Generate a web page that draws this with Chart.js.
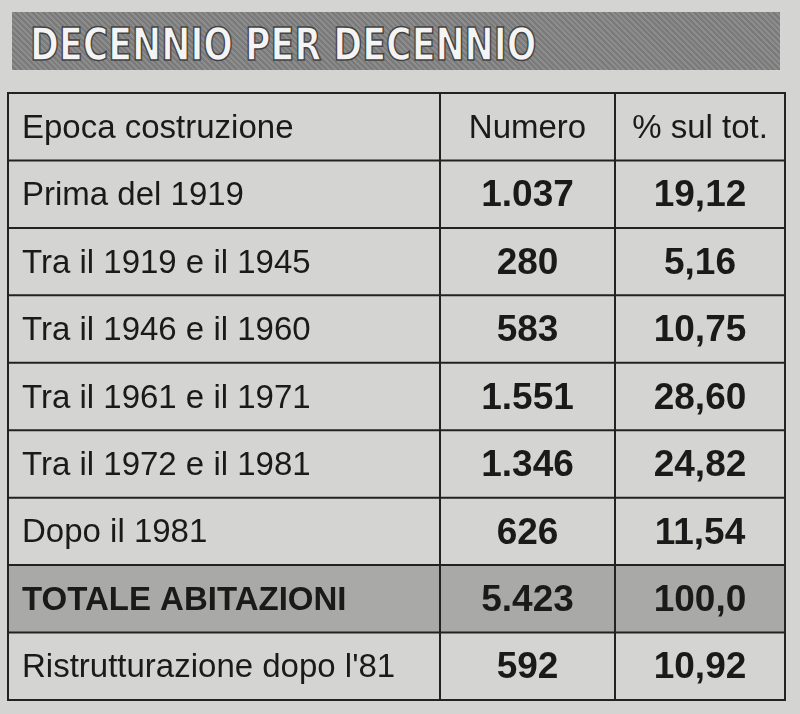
<!DOCTYPE html>
<html><head><meta charset="utf-8">
<script src="https://cdn.jsdelivr.net/npm/chart.js@4"></script>
<style>
body{margin:0;background:#d4d4d2;}
#wrap{position:relative;width:800px;height:714px;}
#band{position:absolute;left:12px;top:12px;width:768px;height:58px;background:repeating-linear-gradient(45deg,#8c8c8c 0 2px,#7a7a7a 2px 4px);}
#ttl{position:absolute;left:30px;top:19px;font:bold 44px "Liberation Sans Narrow","DejaVu Sans Condensed",sans-serif;color:#f4f4f4;-webkit-text-stroke:1.5px #444;transform:scaleX(0.88);transform-origin:left;}
</style></head><body>
<div id="wrap"><div id="band"></div><div id="ttl">DECENNIO PER DECENNIO</div>
<canvas id="c" width="800" height="714"></canvas></div>
<script>
const headers = ["Epoca costruzione","Numero","% sul tot."];
const categories = ["Prima del 1919","Tra il 1919 e il 1945","Tra il 1946 e il 1960","Tra il 1961 e il 1971","Tra il 1972 e il 1981","Dopo il 1981","TOTALE ABITAZIONI","Ristrutturazione dopo l'81"];
const numero = ["1.037","280","583","1.551","1.346","626","5.423","592"];
const percent = ["19,12","5,16","10,75","28,60","24,82","11,54","100,0","10,92"];
const rows = [headers[0]].concat(categories);
const colEdges = [0,432,607,777];
const shaded = rows.map(r => r==="TOTALE ABITAZIONI" ? [0,777] : null);

const tablePlugin = {id:'table', afterDatasetsDraw(chart){
  const ctx=chart.ctx, x=chart.scales.x, y=chart.scales.y;
  const n=rows.length, h=(y.bottom-y.top)/n;
  ctx.save();
  ctx.strokeStyle='#222'; ctx.lineWidth=2;
  ctx.strokeRect(x.getPixelForValue(0),y.top,x.getPixelForValue(777)-x.getPixelForValue(0),y.bottom-y.top);
  for(let i=1;i<n;i++){const yy=y.getPixelForValue(i)-h/2;ctx.beginPath();ctx.moveTo(x.left,yy);ctx.lineTo(x.right,yy);ctx.stroke();}
  colEdges.slice(1,3).forEach(v=>{const xx=x.getPixelForValue(v);ctx.beginPath();ctx.moveTo(xx,y.top);ctx.lineTo(xx,y.bottom);ctx.stroke();});
  ctx.fillStyle='#1a1a1a'; ctx.textBaseline='middle';
  const c1=(x.getPixelForValue(colEdges[1])+x.getPixelForValue(colEdges[2]))/2;
  const c2=(x.getPixelForValue(colEdges[2])+x.getPixelForValue(colEdges[3]))/2;
  rows.forEach((r,i)=>{
    const yy=y.getPixelForValue(i)+2;
    const bold = r==="TOTALE ABITAZIONI";
    ctx.font=(bold?'bold ':'')+'33px "Liberation Sans",Arial,sans-serif';
    ctx.textAlign='left'; ctx.fillText(r,x.getPixelForValue(0)+14,yy);
    ctx.textAlign='center';
    if(i===0){ctx.font='33px "Liberation Sans",Arial,sans-serif';ctx.fillText(headers[1],c1,yy);ctx.fillText(headers[2],c2,yy);}
    else{ctx.font='bold 37px "Liberation Sans",Arial,sans-serif';ctx.fillText(numero[i-1],c1,yy);ctx.fillText(percent[i-1],c2,yy);}
  });
  ctx.restore();
}};
new Chart(document.getElementById('c'),{
  type:'bar',
  data:{labels:rows,datasets:[{data:shaded,backgroundColor:'#a9a9a7',barPercentage:1,categoryPercentage:1}]},
  options:{indexAxis:'y',responsive:false,animation:false,
    layout:{padding:{left:8,right:15,top:93,bottom:14}},
    plugins:{legend:{display:false},tooltip:{enabled:false}},
    scales:{x:{type:'linear',min:0,max:777,display:false},y:{display:false}}},
  plugins:[tablePlugin]
});
</script></body></html>
